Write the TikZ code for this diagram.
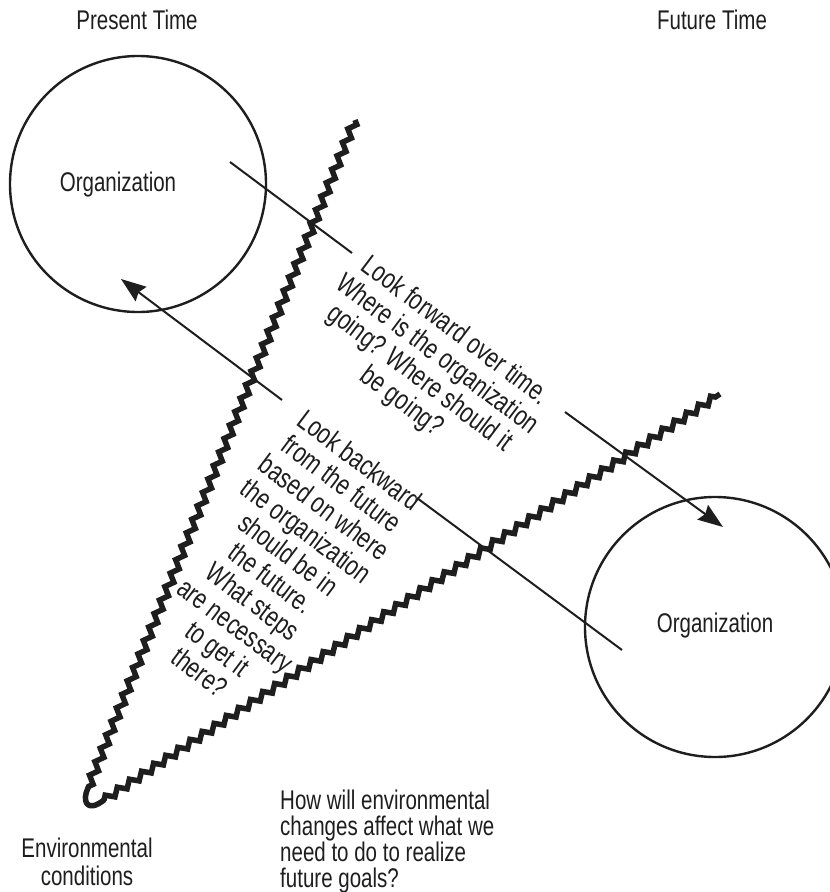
\documentclass[tikz,border=0pt]{standalone}
\usepackage{fontspec}
\setmainfont{Liberation Sans}[FakeStretch=0.76]
\usetikzlibrary{decorations.pathmorphing, arrows.meta}
\definecolor{ink}{RGB}{30,30,30}
\begin{document}
\begin{tikzpicture}[x=1pt, y=-1pt,
  label/.style={font=\fontsize{27}{26}\selectfont, text=ink, inner sep=0pt},
  note/.style={label, align=center, rotate=-37, font=\fontsize{28.5}{29.5}\selectfont},
  orgcircle/.style={circle, draw=ink, line width=2.4pt, inner sep=0pt},
  boundary/.style={draw=ink, line width=5.5pt, line join=miter, miter limit=4,
    decorate, decoration={zigzag, segment length=14.5pt, amplitude=3.4pt}},
  hook/.style={draw=ink, line width=5.5pt, line cap=round, line join=round},
  link/.style={draw=ink, line width=2pt},
  tip/.style={link, -{Stealth[length=25pt, width=18pt, inset=3pt]}}
]
\useasboundingbox (0,0) rectangle (830,892);

% column headings
\node[label] (present) at (137,20) {Present Time};
\node[label] (future) at (712,20) {Future Time};

% the organization now and later
\node[orgcircle, minimum size=256pt] (now) at (138,184) {};
\node[label] (nowtext) at (118,185) {Organization};
\node[orgcircle, minimum size=260pt] (later) at (715,627) {};
\node[label] (latertext) at (715,626) {Organization};

% environmental conditions: two ragged boundaries meeting at a hook
\coordinate (atop) at (355,120);
\coordinate (abot) at (88,788);
\coordinate (bbot) at (104,800);
\coordinate (btop) at (720,394);
\path[boundary] (atop) -- (abot);
\path[hook] (abot) .. controls (82,800) and (86,814) .. (bbot);
\path[boundary] (bbot) -- (btop);

% forward look, broken around its caption
\coordinate (f1) at (230,162);
\coordinate (f2) at (352,253);
\coordinate (f3) at (565,412);
\coordinate (f4) at (723,527);
\path[link] (f1) -- (f2);
\path[tip] (f3) -- (f4);

% backward look, broken around its caption
\coordinate (b1) at (622,650);
\coordinate (b2) at (417,498);
\coordinate (b3) at (282,400);
\coordinate (b4) at (121,279);
\path[link] (b1) -- (b2);
\path[tip] (b3) -- (b4);

% captions along the arrows
\node[note] (fwd) at (428,367) {Look forward over time.\\Where is the organization\\going? Where should it\\be going?};
\node[note] (bwd) at (280,566) {Look backward\\from the future\\based on where\\the organization\\should be in\\the future.\\What steps\\are necessary\\to get it\\there?};

% bottom labels
\node[label, align=center, font=\fontsize{27}{28}\selectfont] (env) at (87,862) {Environmental\\conditions};
\node[label, align=left, anchor=west] (question) at (280,842) {How will environmental\\changes affect what we\\need to do to realize\\future goals?};
\end{tikzpicture}
\end{document}
